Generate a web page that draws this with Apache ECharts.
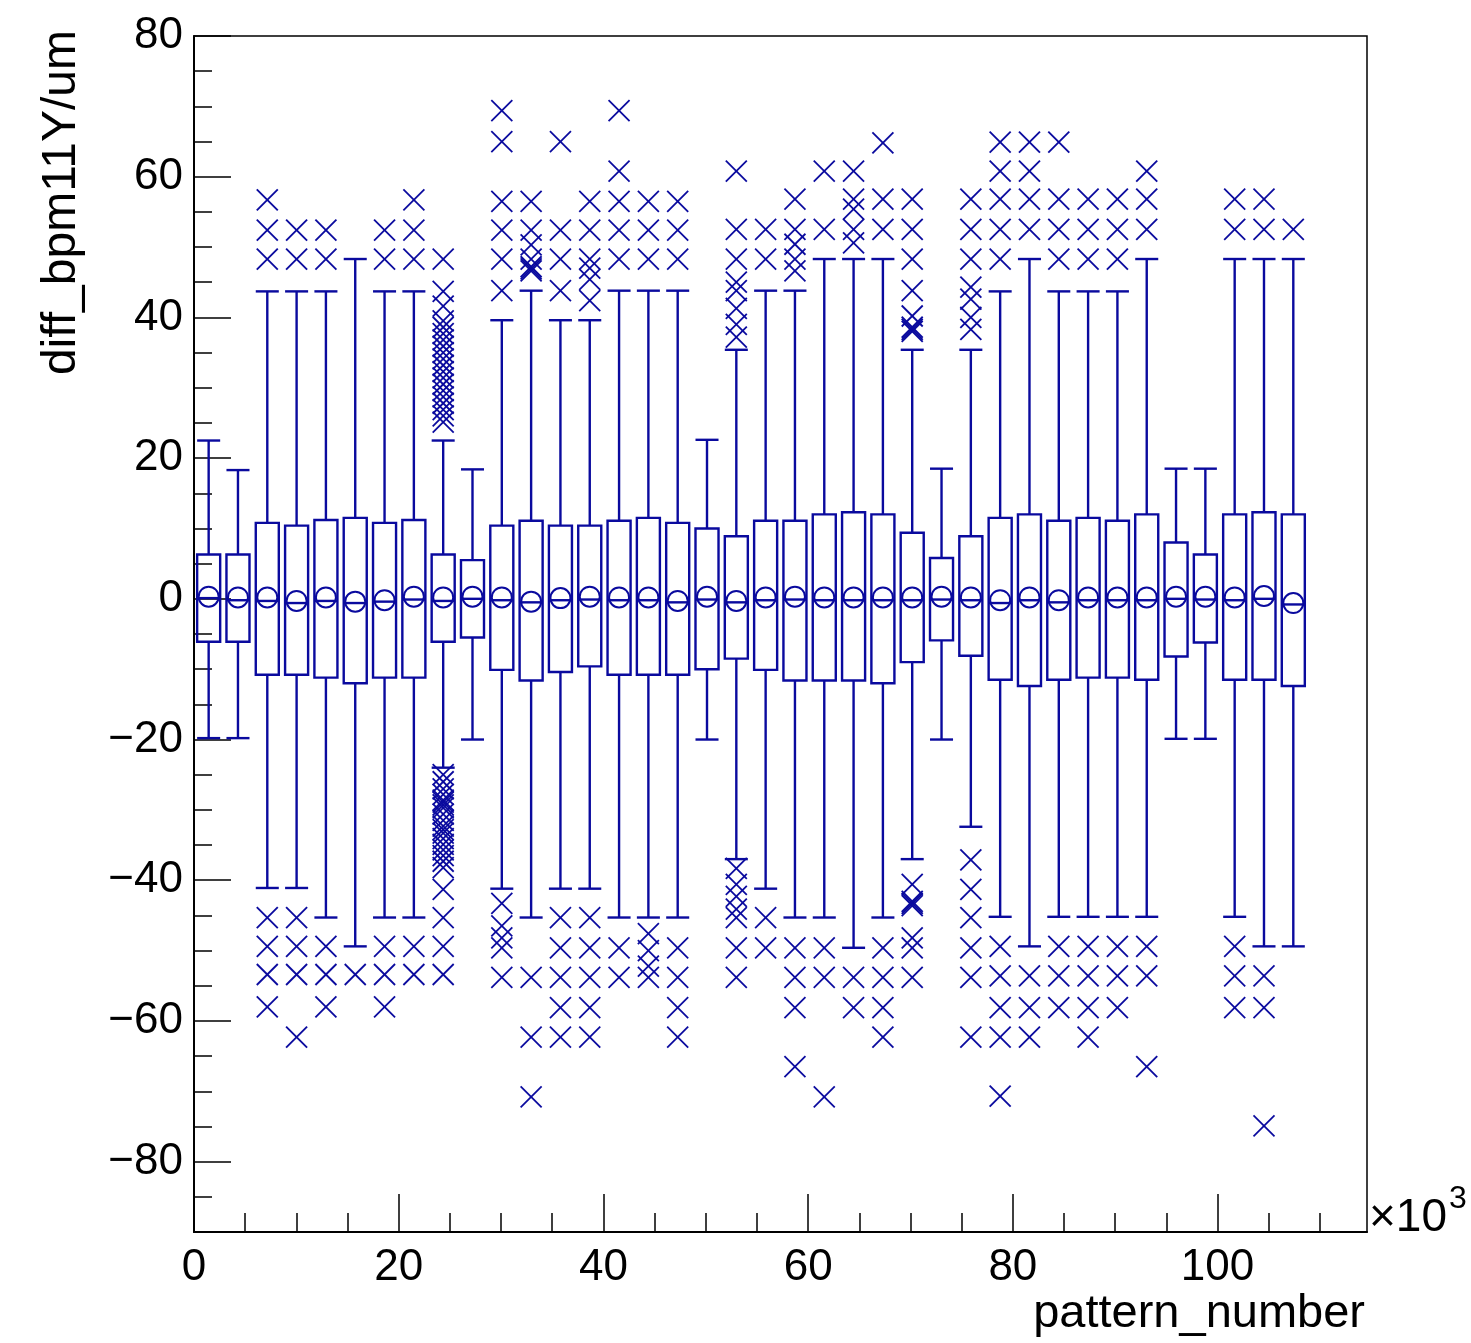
<!DOCTYPE html>
<html>
<head>
<meta charset="utf-8">
<script src="https://cdn.jsdelivr.net/npm/echarts@6/dist/echarts.min.js"></script>
<style>
html, body { margin: 0; padding: 0; background: #ffffff; }
#chart { width: 1471px; height: 1343px; }
</style>
</head>
<body>
<div id="chart"></div>
<script>
// ---- data (pattern_number in units of 10^3, diff_bpm11Y in um) ----
const xCenters = [1.432, 4.296, 7.160, 10.024, 12.888, 15.752, 18.616, 21.480, 24.344, 27.208,
  30.072, 32.936, 35.800, 38.664, 41.528, 44.392, 47.256, 50.120, 52.984, 55.848,
  58.712, 61.576, 64.440, 67.304, 70.168, 73.032, 75.896, 78.760, 81.624, 84.488,
  87.352, 90.216, 93.080, 95.944, 98.808, 101.672, 104.536, 107.400];

const whiskerLow = [-19.8, -19.8, -41.1, -41.1, -45.3, -49.4, -45.3, -45.3, -24.0, -20.0,
  -41.2, -45.3, -41.2, -41.2, -45.3, -45.3, -45.3, -20.0, -37.0, -41.2,
  -45.3, -45.3, -49.6, -45.3, -37.0, -20.0, -32.4, -45.2, -49.4, -45.2,
  -45.2, -45.2, -45.2, -19.9, -19.9, -45.2, -49.4, -49.4];

const q1 = [-6.1, -6.1, -10.8, -10.8, -11.2, -12.0, -11.2, -11.2, -6.1, -5.5,
  -10.1, -11.6, -10.4, -9.6, -10.8, -10.8, -10.8, -10.0, -8.5, -10.1,
  -11.6, -11.6, -11.6, -12.0, -9.0, -5.9, -8.1, -11.5, -12.4, -11.5,
  -11.2, -11.2, -11.5, -8.2, -6.2, -11.5, -11.5, -12.4];

const medians = [0.1, -0.2, -0.3, -0.6, -0.3, -0.6, -0.4, -0.1, -0.3, 0.0,
  -0.2, -0.5, -0.2, -0.1, -0.2, -0.2, -0.5, -0.1, -0.5, -0.2,
  -0.1, -0.2, -0.2, -0.2, -0.2, -0.1, -0.2, -0.6, -0.2, -0.5,
  -0.2, -0.2, -0.2, 0.0, -0.1, -0.2, 0.0, -0.8];

const means = [0.3, 0.2, 0.2, -0.3, 0.2, -0.4, -0.2, 0.3, 0.2, 0.3,
  0.2, -0.4, 0.1, 0.3, 0.2, 0.2, -0.3, 0.3, -0.3, 0.2,
  0.3, 0.2, 0.2, 0.2, 0.2, 0.3, 0.2, -0.2, 0.2, -0.2,
  0.2, 0.2, 0.2, 0.3, 0.3, 0.2, 0.4, -0.6];

const q3 = [6.3, 6.3, 10.8, 10.4, 11.2, 11.5, 10.8, 11.2, 6.3, 5.5,
  10.4, 11.1, 10.4, 10.4, 11.1, 11.5, 10.8, 10.0, 8.9, 11.1,
  11.1, 12.0, 12.3, 12.0, 9.4, 5.8, 8.9, 11.5, 12.0, 11.1,
  11.5, 11.1, 12.0, 8.0, 6.3, 12.0, 12.3, 12.0];

const whiskerHigh = [22.5, 18.3, 43.7, 43.7, 43.7, 48.3, 43.7, 43.7, 22.5, 18.4,
  39.6, 43.8, 39.6, 39.6, 43.8, 43.8, 43.8, 22.6, 35.4, 43.8,
  43.8, 48.3, 48.3, 48.3, 35.4, 18.5, 35.4, 43.7, 48.3, 43.7,
  43.7, 43.7, 48.3, 18.5, 18.5, 48.3, 48.3, 48.3];

const outliersHigh = [
  [], [], [48.3, 52.4, 56.7], [48.3, 52.4], [48.3, 52.4], [], [48.3, 52.4], [48.3, 52.4, 56.7],
  [48.3, 43.7, 41.6, 39.5, 38.6, 37.7, 36.8, 35.9, 35.0, 34.1, 33.2, 32.3, 31.4, 30.5, 29.6, 28.7, 27.8, 26.9, 26.0, 25.1],
  [],
  [43.8, 48.3, 52.4, 56.5, 65.0, 69.4],
  [46.6, 46.9, 47.2, 48.3, 50.3, 52.4, 56.5],
  [43.8, 48.3, 52.4, 65.0],
  [42.4, 45.4, 47.0, 48.3, 52.4, 56.5],
  [48.3, 52.4, 56.5, 60.8, 69.4],
  [48.3, 52.4, 56.5],
  [48.3, 52.4, 56.5],
  [],
  [37.2, 39.0, 41.3, 43.8, 45.0, 48.3, 52.5, 60.8],
  [48.3, 52.5],
  [46.6, 48.3, 50.4, 52.5, 56.8],
  [52.5, 60.8],
  [50.6, 52.5, 55.4, 56.8, 60.8],
  [52.5, 56.8, 64.8],
  [38.0, 38.3, 38.6, 40.2, 43.8, 48.3, 52.5, 56.8],
  [],
  [38.3, 40.0, 42.6, 44.3, 48.3, 52.5, 56.8],
  [48.3, 52.5, 56.8, 60.8, 64.9],
  [52.5, 56.8, 60.8, 64.9],
  [48.3, 52.5, 56.8, 64.9],
  [48.3, 52.5, 56.8],
  [48.3, 52.5, 56.8],
  [52.5, 56.8, 60.8],
  [],
  [],
  [52.5, 56.8],
  [52.5, 56.8],
  [52.5]
];

const outliersLow = [
  [], [], [-45.3, -49.4, -53.4, -58.0], [-45.3, -49.4, -53.4, -62.3], [-49.4, -53.4, -58.0], [-53.4],
  [-49.4, -53.4, -58.0], [-49.4, -53.4],
  [-25.0, -26.0, -27.0, -27.8, -28.6, -28.9, -29.3, -29.7, -30.6, -31.5, -32.3, -32.8, -33.3, -34.1, -34.9, -35.7, -36.5, -37.3, -38.2, -41.3, -45.3, -49.4, -53.4],
  [],
  [-43.3, -46.5, -48.2, -49.6, -53.8],
  [-53.8, -62.3, -70.8],
  [-45.3, -49.6, -53.8, -58.1, -62.3],
  [-45.3, -49.6, -53.8, -58.1, -62.3],
  [-49.6, -53.8],
  [-47.6, -50.0, -52.2, -53.8],
  [-49.6, -53.8, -58.1, -62.3],
  [],
  [-38.3, -40.6, -42.3, -44.1, -45.3, -49.6, -53.8],
  [-45.3, -49.6],
  [-49.6, -53.8, -58.1, -66.5],
  [-49.6, -53.8, -70.8],
  [-53.8, -58.1],
  [-49.6, -53.8, -58.1, -62.3],
  [-40.6, -43.0, -43.3, -43.6, -48.2, -49.6, -53.8],
  [],
  [-37.1, -41.3, -45.3, -49.6, -53.8, -62.3],
  [-49.4, -53.6, -58.1, -62.3, -70.7],
  [-53.6, -58.1, -62.3],
  [-49.4, -53.6, -58.1],
  [-49.4, -53.6, -58.1, -62.3],
  [-49.4, -53.6, -58.1],
  [-49.4, -53.6, -66.5],
  [],
  [],
  [-49.4, -53.6, -58.1],
  [-53.6, -58.1, -74.9],
  []
];

const xMajorTicks = [0, 20, 40, 60, 80, 100];
const xMinorTicks = [5, 10, 15, 25, 30, 35, 45, 50, 55, 65, 70, 75, 85, 90, 95, 105, 110];
const yMajorTicks = [-80, -60, -40, -20, 0, 20, 40, 60, 80];
const yMinorTicks = [-85, -75, -70, -65, -55, -50, -45, -35, -30, -25, -15, -10, -5,
  5, 10, 15, 25, 30, 35, 45, 50, 55, 65, 70, 75];

// ---- styling ----
const BLUE = '#0a0a9e';
const FONT = '"Liberation Sans", Arial, Helvetica, sans-serif';
const BOX_W = 2.25;      // box width in x-axis units
const MEAN_R = 10;       // mean circle radius, px
const X_HALF = 10.5;     // outlier cross half-size, px

const boxData = xCenters.map((x, i) => [x, whiskerLow[i], q1[i], medians[i], q3[i], whiskerHigh[i], means[i]]);
const outlierData = [];
xCenters.forEach((x, i) => {
  outliersHigh[i].forEach(v => outlierData.push([x, v]));
  outliersLow[i].forEach(v => outlierData.push([x, v]));
});

function lineStyle(w) { return { stroke: BLUE, lineWidth: w, fill: null }; }

function renderBox(params, api) {
  const x = api.value(0);
  const halfW = api.size([BOX_W, 0])[0] / 2;
  const pLo = api.coord([x, api.value(1)]);
  const pQ1 = api.coord([x, api.value(2)]);
  const pMed = api.coord([x, api.value(3)]);
  const pQ3 = api.coord([x, api.value(4)]);
  const pHi = api.coord([x, api.value(5)]);
  const pMean = api.coord([x, api.value(6)]);
  const cx = pMed[0];
  return {
    type: 'group',
    children: [
      { type: 'rect', shape: { x: cx - halfW, y: pQ3[1], width: 2 * halfW, height: pQ1[1] - pQ3[1] }, style: lineStyle(2.4) },
      { type: 'line', shape: { x1: cx, y1: pQ3[1], x2: cx, y2: pHi[1] }, style: lineStyle(2.4) },
      { type: 'line', shape: { x1: cx, y1: pQ1[1], x2: cx, y2: pLo[1] }, style: lineStyle(2.4) },
      { type: 'line', shape: { x1: cx - halfW, y1: pHi[1], x2: cx + halfW, y2: pHi[1] }, style: lineStyle(2.4) },
      { type: 'line', shape: { x1: cx - halfW, y1: pLo[1], x2: cx + halfW, y2: pLo[1] }, style: lineStyle(2.4) },
      { type: 'line', shape: { x1: cx - halfW, y1: pMed[1], x2: cx + halfW, y2: pMed[1] }, style: lineStyle(2.4) },
      { type: 'circle', shape: { cx: cx, cy: pMean[1], r: MEAN_R }, style: lineStyle(2) }
    ]
  };
}

function renderCross(params, api) {
  const p = api.coord([api.value(0), api.value(1)]);
  return {
    type: 'group',
    children: [
      { type: 'line', shape: { x1: p[0] - X_HALF, y1: p[1] - X_HALF, x2: p[0] + X_HALF, y2: p[1] + X_HALF }, style: lineStyle(1.8) },
      { type: 'line', shape: { x1: p[0] - X_HALF, y1: p[1] + X_HALF, x2: p[0] + X_HALF, y2: p[1] - X_HALF }, style: lineStyle(1.8) }
    ]
  };
}

function yFmt(v) { return v < 0 ? '\u2212' + Math.abs(v) : String(v); }

const chart = echarts.init(document.getElementById('chart'), null, { renderer: 'canvas' });

chart.setOption({
  animation: false,
  backgroundColor: '#ffffff',
  grid: {
    left: 194, right: 104, top: 36, bottom: 111,
    show: true, borderColor: '#000000', borderWidth: 1.5, backgroundColor: '#ffffff'
  },
  xAxis: [
    {
      type: 'value', position: 'bottom', min: 0, max: 114.6,
      axisLine: { show: true, onZero: false, lineStyle: { color: '#000', width: 2 } },
      axisTick: { show: true, inside: true, length: 38, customValues: xMajorTicks, lineStyle: { color: '#000', width: 1.5 } },
      axisLabel: { show: true, customValues: xMajorTicks, margin: 14, color: '#000', fontSize: 44, fontFamily: FONT },
      splitLine: { show: false }
    },
    {
      type: 'value', position: 'bottom', min: 0, max: 114.6,
      axisLine: { show: false, onZero: false },
      axisTick: { show: true, inside: true, length: 19, customValues: xMinorTicks, lineStyle: { color: '#000', width: 1.5 } },
      axisLabel: { show: false },
      splitLine: { show: false }
    }
  ],
  yAxis: [
    {
      type: 'value', position: 'left', min: -90, max: 80,
      axisLine: { show: true, onZero: false, lineStyle: { color: '#000', width: 2 } },
      axisTick: { show: true, inside: true, length: 37, customValues: yMajorTicks, lineStyle: { color: '#000', width: 1.5 } },
      axisLabel: { show: true, customValues: yMajorTicks, margin: 11, color: '#000', fontSize: 44, fontFamily: FONT, formatter: yFmt, padding: [6, 0, 0, 0] },
      splitLine: { show: false }
    },
    {
      type: 'value', position: 'left', min: -90, max: 80,
      axisLine: { show: false, onZero: false },
      axisTick: { show: true, inside: true, length: 18, customValues: yMinorTicks, lineStyle: { color: '#000', width: 1.5 } },
      axisLabel: { show: false },
      splitLine: { show: false }
    }
  ],
  series: [
    {
      type: 'custom', name: 'box', xAxisIndex: 0, yAxisIndex: 0,
      renderItem: renderBox, data: boxData, clip: true, silent: true,
      encode: { x: 0, y: [1, 2, 3, 4, 5, 6] }
    },
    {
      type: 'custom', name: 'outliers', xAxisIndex: 0, yAxisIndex: 0,
      renderItem: renderCross, data: outlierData, clip: true, silent: true,
      encode: { x: 0, y: 1 }
    }
  ],
  graphic: [
    {
      type: 'text', x: 62, y: 30, rotation: Math.PI / 2,
      style: { text: 'diff_bpm11Y/um', font: '48px ' + FONT, fill: '#000', align: 'right', verticalAlign: 'middle' }
    },
    {
      type: 'text', x: 1365, y: 1314,
      style: { text: 'pattern_number', font: '47px ' + FONT, fill: '#000', align: 'right', verticalAlign: 'middle' }
    },
    {
      type: 'text', x: 1369, y: 1218,
      style: { text: '\u00d710', font: '46px ' + FONT, fill: '#000', align: 'left', verticalAlign: 'middle' }
    },
    {
      type: 'text', x: 1449, y: 1199,
      style: { text: '3', font: '32px ' + FONT, fill: '#000', align: 'left', verticalAlign: 'middle' }
    }
  ]
});
</script>
</body>
</html>
